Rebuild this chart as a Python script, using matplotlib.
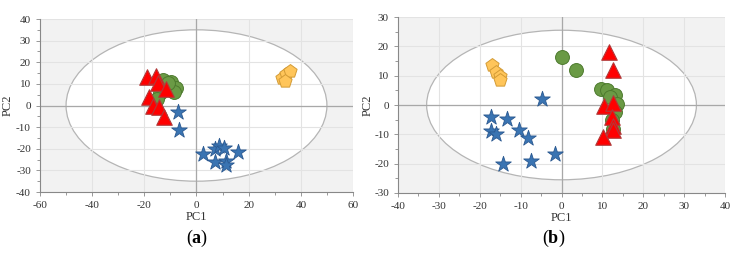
import numpy as np
import matplotlib
matplotlib.use("Agg")
import matplotlib.pyplot as plt
from matplotlib.patches import Ellipse
from matplotlib.ticker import MultipleLocator

plt.rcParams['font.family'] = ['Liberation Serif', 'DejaVu Serif']
plt.rcParams['axes.unicode_minus'] = False
plt.rcParams['mathtext.fontset'] = 'custom'
plt.rcParams['mathtext.rm'] = 'Liberation Serif'
plt.rcParams['mathtext.bf'] = 'Liberation Serif:bold'

# ---- panel (a) scores ----
a_red_x = [-19.1, -15.5, -14.6, -11.8, -18.1, -16.8, -14.3, -12.5]
a_red_y = [13.3, 13.6, 10.3, 7.5, 4.1, -0.2, -0.8, -5.2]
a_green_x = [-12.8, -9.6, -7.7, -8.7, -14.0, -15.3, -10.9]
a_green_y = [11.7, 11.0, 7.9, 6.3, 5.6, 3.2, 10.4]
a_blue_x = [-7.0, -6.6, 2.4, 7.1, 8.7, 10.6, 16.0, 7.1, 11.3, 11.2]
a_blue_y = [-3.0, -11.4, -22.2, -20.3, -18.7, -19.8, -21.6, -26.3, -25.5, -27.5]
a_orange_x = [32.9, 34.2, 35.7, 33.8]
a_orange_y = [12.5, 14.5, 16.0, 11.4]

# ---- panel (b) scores ----
b_red_x = [11.5, 12.5, 10.3, 12.7, 12.3, 12.5, 12.7, 10.1]
b_red_y = [18.1, 11.9, -0.3, 0.8, -4.2, -7.1, -8.5, -10.8]
b_green_x = [0.2, 3.5, 9.7, 11.2, 13.1, 11.9, 13.5, 13.1, 12.3, 12.7]
b_green_y = [16.2, 12.1, 5.3, 5.1, 3.4, 2.8, 0.3, -2.3, -5.0, -8.3]
b_blue_x = [-4.8, -17.3, -13.4, -17.3, -16.0, -10.3, -8.2, -1.7, -7.5, -14.3]
b_blue_y = [2.0, -4.2, -4.9, -8.8, -9.8, -8.5, -11.3, -16.6, -19.0, -20.0]
b_orange_x = [-17.0, -16.0, -15.0, -15.1]
b_orange_y = [13.6, 11.3, 9.8, 8.5]

fig = plt.figure(figsize=(7.43, 2.58), dpi=100)
ax1 = fig.add_axes([0.0538, 0.2558, 0.4213, 0.6705])
ax2 = fig.add_axes([0.5357, 0.252, 0.4401, 0.682])


def style(ax, xlim, ylim, xmaj, ymaj, ell_w, ell_h, ylab_x):
    ax.set_facecolor('#f2f2f2')
    ax.add_patch(Ellipse((0, 0), ell_w, ell_h, facecolor='white',
                         edgecolor='#b5b5b5', lw=0.9, zorder=0.2))
    ax.set_xlim(xlim)
    ax.set_ylim(ylim)
    ax.xaxis.set_major_locator(MultipleLocator(xmaj))
    ax.yaxis.set_major_locator(MultipleLocator(ymaj))
    ax.xaxis.set_minor_locator(MultipleLocator(xmaj / 2))
    ax.yaxis.set_minor_locator(MultipleLocator(ymaj / 2))
    ax.set_axisbelow(True)
    ax.grid(True, which='major', color='#e3e3e3', lw=0.8)
    ax.axhline(0, color='#a8a8a8', lw=0.9, zorder=0.6)
    ax.axvline(0, color='#a8a8a8', lw=0.9, zorder=0.6)
    for s in ['top', 'right']:
        ax.spines[s].set_visible(False)
    for s in ['left', 'bottom']:
        ax.spines[s].set_color('#888888')
        ax.spines[s].set_linewidth(0.8)
    ax.tick_params(which='both', direction='out', colors='#888888',
                   labelcolor='#333333', labelsize=8, width=0.6)
    ax.tick_params(which='major', length=3)
    ax.tick_params(which='minor', length=2)
    ax.set_xlabel('PC1', fontsize=9, labelpad=1, color='#333333')
    ax.set_ylabel('PC2', fontsize=9, color='#333333')
    ax.yaxis.set_label_coords(ylab_x, 0.5)


def draw(ax, gx, gy, rx, ry, bx, by, ox, oy):
    ax.scatter(gx, gy, s=100, marker='o', c='#6a9a45', edgecolors='#4d7a2e',
               linewidths=0.7, zorder=3)
    ax.scatter(rx, ry, s=125, marker='^', c='#ff0000', edgecolors='#b03a3a',
               linewidths=0.8, zorder=4)
    ax.scatter(bx, by, s=140, marker='*', c='#3a74b2', edgecolors='#2a5890',
               linewidths=0.6, zorder=3)
    ax.scatter(ox, oy, s=100, marker='p', c='#ffc55a', edgecolors='#d39b35',
               linewidths=0.7, zorder=3)


style(ax1, (-60, 60), (-40, 40), 20, 10, 100, 70, -0.085)
draw(ax1, a_green_x, a_green_y, a_red_x, a_red_y, a_blue_x, a_blue_y,
     a_orange_x, a_orange_y)
style(ax2, (-40, 40), (-30, 30), 10, 10, 66, 51, -0.075)
draw(ax2, b_green_x, b_green_y, b_red_x, b_red_y, b_blue_x, b_blue_y,
     b_orange_x, b_orange_y)

fig.text(0.265, 0.075, r'($\mathbf{a}$)', ha='center', va='center', fontsize=13)
fig.text(0.745, 0.075, r'($\mathbf{b}$)', ha='center', va='center', fontsize=13)

fig.savefig('out.png', dpi=100)
